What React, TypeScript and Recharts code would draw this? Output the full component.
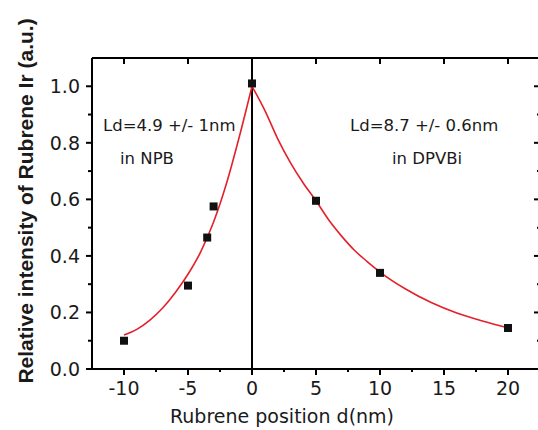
import { ComposedChart, Line, Scatter, XAxis, YAxis, ReferenceLine, Customized } from 'recharts';

// measured rubrene intensities vs position (nm)
const positions = [-10, -5, -3.5, -3, 0, 5, 10, 20];
const intensity = [0.1, 0.295, 0.465, 0.575, 1.01, 0.595, 0.34, 0.145];

// fitted curve, NPB side (x < 0) and DPVBi side (x > 0)
const fitNpbX = [-10, -9, -8, -7, -6, -5, -4, -3, -2, -1, 0];
const fitNpbY = [0.12, 0.14, 0.172, 0.215, 0.27, 0.335, 0.415, 0.52, 0.655, 0.82, 1.0];
const fitDpvbiX = [0, 1, 2, 3, 4, 5, 6, 7, 8, 9, 10, 12, 14, 16, 18, 20];
const fitDpvbiY = [1.0, 0.915, 0.815, 0.73, 0.658, 0.595, 0.527, 0.47, 0.42, 0.38, 0.343, 0.283, 0.235, 0.198, 0.17, 0.146];

const xTicks = [-10, -7.5, -5, -2.5, 0, 2.5, 5, 7.5, 10, 12.5, 15, 17.5, 20];
const xMajor = [-10, -5, 0, 5, 10, 15, 20];
const yTicks = [0, 0.1, 0.2, 0.3, 0.4, 0.5, 0.6, 0.7, 0.8, 0.9, 1.0];
const yMajor = ['0.0', '0.2', '0.4', '0.6', '0.8', '1.0'];

const xDomain = [-12.5, 22.5];
const yDomain = [0, 1.1];

const measured = positions.map((x, i) => ({ x, y: intensity[i] }));
const fitNpb = fitNpbX.map((x, i) => ({ x, y: fitNpbY[i] }));
const fitDpvbi = fitDpvbiX.map((x, i) => ({ x, y: fitDpvbiY[i] }));

const ink = 'black';
const fitRed = '#e4202a';
const tickFont = 'DejaVu Sans, sans-serif';

// plot box, follows from the chart size, margins and axis sizes below
const W = 560;
const H = 430;
const margin = { top: 58, right: 20, bottom: 21, left: 32 };
const yAxisW = 60;
const xAxisH = 40;
const plot = {
  left: margin.left + yAxisW,
  right: W - margin.right,
  top: margin.top,
  bottom: H - margin.bottom - xAxisH,
};
const px = (v: number) => plot.left + ((v - xDomain[0]) / (xDomain[1] - xDomain[0])) * (plot.right - plot.left);
const py = (v: number) => plot.bottom - ((v - yDomain[0]) / (yDomain[1] - yDomain[0])) * (plot.bottom - plot.top);

const BottomLabel = (props: any) => {
  const { x, y, payload } = props;
  if (!xMajor.includes(payload.value)) return <g />;
  return (
    <text x={x} y={y + 26} textAnchor="middle" fontFamily={tickFont} fontSize={19} fill="#1a1a1a">
      {payload.value}
    </text>
  );
};

const LeftLabel = (props: any) => {
  const { x, y, payload } = props;
  const label = payload.value.toFixed(1);
  if (!yMajor.includes(label)) return <g />;
  return (
    <text x={x - 12} y={y + 7} textAnchor="end" fontFamily={tickFont} fontSize={19} fill="#1a1a1a">
      {label}
    </text>
  );
};

const Square = (props: any) => (
  <rect x={props.cx - 4} y={props.cy - 4} width={8} height={8} fill="#111" />
);

// frame and tick marks on all four sides
const Frame = () => {
  const segs: number[][] = [];
  segs.push([plot.left, plot.top, plot.right, plot.top]);
  segs.push([plot.right, plot.top, plot.right, plot.bottom]);
  xTicks.forEach((v) => {
    const major = xMajor.includes(v);
    segs.push([px(v), plot.bottom, px(v), plot.bottom + (major ? 6 : 3)]);
    if (major) segs.push([px(v), plot.top, px(v), plot.top + 6]);
  });
  yTicks.forEach((v) => {
    const major = yMajor.includes(v.toFixed(1));
    segs.push([plot.left, py(v), plot.left - (major ? 6 : 4), py(v)]);
    segs.push([plot.right, py(v), plot.right - (major ? 6 : 3), py(v)]);
  });
  return (
    <g>
      {segs.map((s, i) => (
        <line key={i} x1={s[0]} y1={s[1]} x2={s[2]} y2={s[3]} stroke={ink} strokeWidth={2} />
      ))}
    </g>
  );
};

const Notes = () => (
  <g fill="#1a1a1a" fontFamily={tickFont} fontSize={16.5}>
    <text x={103} y={131}>Ld=4.9 +/- 1nm</text>
    <text x={120} y={164}>in NPB</text>
    <text x={350} y={131}>Ld=8.7 +/- 0.6nm</text>
    <text x={392} y={164}>in DPVBi</text>
    <text x={282} y={423} textAnchor="middle" fontSize={19}>Rubrene position d(nm)</text>
    <text
      transform="translate(25,201) rotate(-90)"
      textAnchor="middle"
      dominantBaseline="central"
      fontFamily="Liberation Sans, Arial, sans-serif"
      fontWeight="bold"
      fontSize={21}
    >
      Relative intensity of Rubrene Ir (a.u.)
    </text>
  </g>
);

export default function App() {
  return (
    <div style={{ position: 'absolute', left: 0, top: 0, width: 538, height: 430, overflow: 'hidden', background: '#fff' }}>
      <ComposedChart width={W} height={H} margin={margin}>
        <XAxis
          dataKey="x"
          type="number"
          domain={xDomain}
          allowDataOverflow
          ticks={xTicks}
          interval={0}
          height={xAxisH}
          tickSize={0}
          tickMargin={0}
          tickLine={false}
          tick={<BottomLabel />}
          axisLine={{ stroke: ink, strokeWidth: 2 }}
        />
        <YAxis
          type="number"
          domain={yDomain}
          allowDataOverflow
          ticks={yTicks}
          interval={0}
          width={yAxisW}
          tickSize={0}
          tickMargin={0}
          tickLine={false}
          tick={<LeftLabel />}
          axisLine={{ stroke: ink, strokeWidth: 2 }}
        />
        <ReferenceLine x={0} stroke={ink} strokeWidth={2} />
        <Line data={fitNpb} dataKey="y" type="monotone" stroke={fitRed} strokeWidth={1.6} dot={false} isAnimationActive={false} />
        <Line data={fitDpvbi} dataKey="y" type="monotone" stroke={fitRed} strokeWidth={1.6} dot={false} isAnimationActive={false} />
        <Scatter data={measured} dataKey="y" shape={<Square />} isAnimationActive={false} />
        <Customized component={Frame} />
        <Customized component={Notes} />
      </ComposedChart>
    </div>
  );
}
